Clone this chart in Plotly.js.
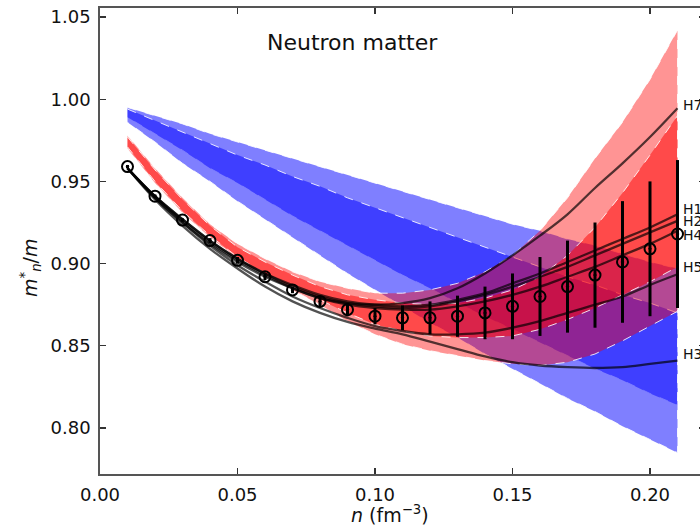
<!DOCTYPE html>
<html>
<head>
<meta charset="utf-8">
<script src="https://cdn.plot.ly/plotly-3.0.1.min.js"></script>
<style>
html,body{margin:0;padding:0;overflow:hidden;background:#fff;}
#chart{width:760px;height:527px;}
</style>
</head>
<body>
<div id="chart"></div>
<script>
// ---- data ----
const density = [0.01,0.02,0.03,0.04,0.05,0.06,0.07,0.08,0.09,0.10,0.11,0.12,0.13,0.14,0.15,0.16,0.17,0.18,0.19,0.20,0.21];

const neutronMass = [0.959,0.941,0.9265,0.914,0.902,0.892,0.884,0.877,0.872,0.868,0.867,0.867,0.868,0.870,0.874,0.880,0.886,0.893,0.901,0.909,0.918];
const neutronErr  = [0.001,0.001,0.001,0.0015,0.002,0.002,0.002,0.003,0.004,0.005,0.0075,0.010,0.0125,0.016,0.020,0.024,0.028,0.032,0.037,0.041,0.045];

const blueAUpper = [0.995,0.990,0.985,0.979,0.974,0.969,0.964,0.959,0.954,0.949,0.944,0.939,0.934,0.929,0.924,0.920,0.915,0.911,0.906,0.901,0.897];
const blueALower = [0.989,0.979,0.969,0.958,0.949,0.939,0.929,0.920,0.911,0.902,0.893,0.885,0.876,0.868,0.860,0.852,0.844,0.836,0.829,0.821,0.814];
const blueBUpper = [0.994,0.987,0.980,0.973,0.966,0.960,0.953,0.947,0.940,0.934,0.928,0.922,0.916,0.910,0.904,0.898,0.892,0.887,0.881,0.876,0.870];
const blueBLower = [0.986,0.974,0.961,0.950,0.938,0.927,0.916,0.905,0.894,0.884,0.874,0.864,0.855,0.845,0.836,0.827,0.818,0.810,0.801,0.793,0.785];

const redOuterUpper = [0.978,0.958,0.940,0.924,0.912,0.903,0.895,0.889,0.885,0.882,0.882,0.884,0.888,0.895,0.905,0.920,0.940,0.964,0.986,1.012,1.042];
const redOuterLower = [0.970,0.949,0.931,0.916,0.903,0.893,0.884,0.875,0.865,0.857,0.851,0.847,0.844,0.841,0.839,0.838,0.840,0.845,0.853,0.862,0.871];
const redInnerUpper = [0.977,0.957,0.939,0.923,0.910,0.901,0.893,0.886,0.881,0.878,0.876,0.875,0.876,0.879,0.884,0.892,0.905,0.922,0.943,0.966,0.990];
const redInnerLower = [0.971,0.950,0.932,0.917,0.904,0.894,0.886,0.878,0.870,0.863,0.859,0.856,0.855,0.855,0.856,0.860,0.866,0.873,0.881,0.889,0.898];

const curveNames = ["H7","H1","H2","H4","H5","H3"];
const curveH7 = [0.958,0.940,0.925,0.912,0.901,0.892,0.885,0.879,0.876,0.875,0.876,0.879,0.885,0.894,0.905,0.917,0.930,0.946,0.961,0.977,0.9945];
const curveH1 = [0.958,0.941,0.927,0.914,0.903,0.894,0.887,0.881,0.877,0.875,0.874,0.875,0.878,0.882,0.888,0.894,0.901,0.908,0.915,0.922,0.930];
const curveH2 = [0.958,0.941,0.927,0.914,0.903,0.894,0.886,0.880,0.876,0.874,0.873,0.874,0.877,0.881,0.886,0.892,0.898,0.905,0.912,0.919,0.926];
const curveH4 = [0.958,0.941,0.926,0.913,0.902,0.893,0.885,0.879,0.875,0.873,0.872,0.872,0.874,0.877,0.881,0.886,0.892,0.898,0.905,0.912,0.920];
const curveH5 = [0.958,0.940,0.925,0.911,0.899,0.889,0.880,0.873,0.867,0.862,0.859,0.857,0.857,0.858,0.861,0.865,0.870,0.875,0.880,0.887,0.8935];
const curveH3 = [0.958,0.939,0.923,0.909,0.897,0.886,0.877,0.870,0.8645,0.8605,0.857,0.8525,0.848,0.8435,0.840,0.838,0.837,0.8365,0.837,0.839,0.841];
const labelY = [0.9965,0.9335,0.9258,0.9172,0.898,0.845];

const xTicks = [0.00,0.05,0.10,0.15,0.20];
const yTicks = [0.80,0.85,0.90,0.95,1.00,1.05];

// ---- build traces ----
function band(upper, lower, fill){
  return {
    x: density.concat(density.slice().reverse()),
    y: upper.concat(lower.slice().reverse()),
    type:'scatter', mode:'lines', fill:'toself', fillcolor:fill,
    line:{color:'rgba(255,255,255,0.85)', width:1, dash:'dash'},
    hoverinfo:'skip', showlegend:false
  };
}
const traces = [
  band(blueAUpper, blueALower, 'rgba(0,0,255,0.5)'),
  band(blueBUpper, blueBLower, 'rgba(0,0,255,0.5)'),
  band(redOuterUpper, redOuterLower, 'rgba(255,0,0,0.42)'),
  band(redInnerUpper, redInnerLower, 'rgba(255,0,0,0.5)')
];
const curves = [curveH7, curveH1, curveH2, curveH4, curveH5, curveH3];
curves.forEach((c,i)=>{
  traces.push({x:density, y:c, type:'scatter', mode:'lines', name:curveNames[i],
    line:{color:'rgba(0,0,0,0.68)', width:2.3, shape:'spline'}, showlegend:false});
});
traces.push({
  x:density, y:neutronMass, type:'scatter', mode:'markers', showlegend:false,
  marker:{symbol:'circle-open-dot', size:11, color:'black', line:{width:2, color:'black'}},
  error_y:{type:'data', array:neutronErr, visible:true, color:'black', thickness:3, width:0}
});

const annotations = [
  {text:'Neutron matter', xref:'paper', yref:'paper', x:(352-100)/605, y:(474-43)/466,
   xanchor:'center', yanchor:'middle', showarrow:false,
   font:{family:'DejaVu Sans', size:22, color:'#111'}},
  {text:'<i>n</i> (fm<sup>−3</sup>)', xref:'paper', yref:'paper', x:(390-100)/605, y:(474-514)/466,
   xanchor:'center', yanchor:'middle', showarrow:false,
   font:{family:'DejaVu Sans', size:19, color:'#111'}},
  {text:'<i>m</i><sup>*</sup><sub><i>n</i></sub>/<i>m</i>', xref:'paper', yref:'paper', x:(30-100)/605, y:(474-268)/466,
   xanchor:'center', yanchor:'middle', showarrow:false, textangle:-90,
   font:{family:'DejaVu Sans', size:19, color:'#111'}}
];
curveNames.forEach((nm,i)=>{
  annotations.push({text:nm, x:0.2113, y:labelY[i], xref:'x', yref:'y', xanchor:'left', yanchor:'middle',
    showarrow:false, font:{family:'DejaVu Sans', size:14, color:'#111'}});
});

const axisCommon = {
  showgrid:false, zeroline:false, showline:true, linecolor:'#555', linewidth:1.8,
  mirror:'ticks', ticks:'inside', ticklen:6, tickwidth:1.2, tickcolor:'#333',
  tickfont:{family:'DejaVu Sans', size:18, color:'#111'}, tickformat:'.2f'
};
const layout = {
  width:760, height:527,
  margin:{l:100, r:55, t:8, b:53},
  paper_bgcolor:'white', plot_bgcolor:'white',
  xaxis:Object.assign({}, axisCommon, {range:[0,0.22], tickvals:xTicks, ticklabelstandoff:4}),
  yaxis:Object.assign({}, axisCommon, {range:[0.772,1.0555], tickvals:yTicks, ticklabelstandoff:4}),
  annotations:annotations,
  showlegend:false
};
Plotly.newPlot('chart', traces, layout, {staticPlot:true});
</script>
</body>
</html>
